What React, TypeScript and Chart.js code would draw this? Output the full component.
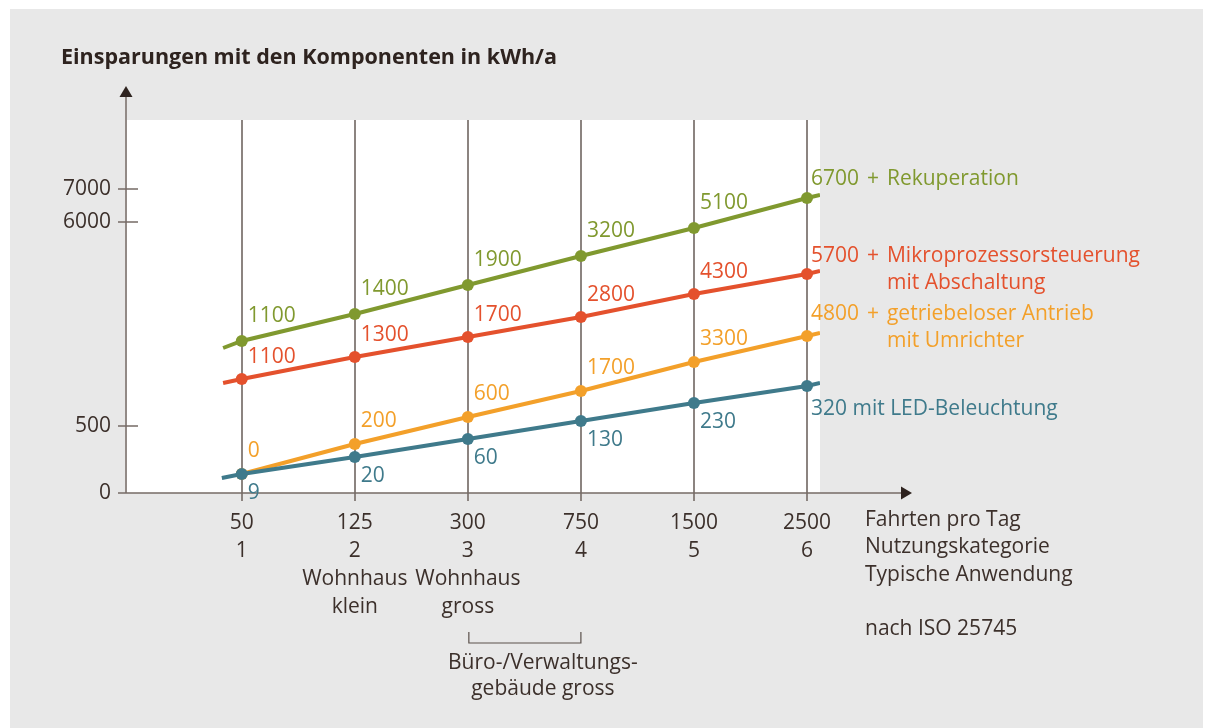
import React, { useEffect, useRef } from "react";
import { Chart, registerables } from "chart.js";

Chart.register(...registerables);

// ---------- data ----------
const categories = [1, 2, 3, 4, 5, 6];
const tripsPerDay = ["50", "125", "300", "750", "1500", "2500"];
const usageCategory = ["1", "2", "3", "4", "5", "6"];
const typicalUse: string[][] = [[], ["Wohnhaus", "klein"], ["Wohnhaus", "gross"], [], [], []];
const axisCaption = ["Fahrten pro Tag", "Nutzungskategorie", "Typische Anwendung", "", "nach ISO 25745"];
const groupRange = [3, 4];
const groupLabel = ["Büro-/Verwaltungs-", "gebäude gross"];
const title = "Einsparungen mit den Komponenten in kWh/a";

// schematic y axis (diagram is not to scale)
const yTickPos = [0, 67, 271, 304];
const yTickLabels = ["0", "500", "6000", "7000"];

// schematic plot heights of each point
const rekuperationPos = [152, 179, 208, 237, 265, 295];
const mikroPos = [114, 136, 156, 176, 199, 219];
const antriebPos = [19, 49, 76, 102, 131, 157];
const ledPos = [19, 36, 54, 72, 90, 107];

// line lead-in / lead-out heights
const leadInX = [0.835, 0.835, null, 0.824];
const leadInY = [145, 110, null, 15];
const leadOutX = 6.115;
const leadOutY = [298, 222, 160, 110];

// savings in kWh/a (labels)
const rekuperationKWh = [1100, 1400, 1900, 3200, 5100, 6700];
const mikroKWh = [1100, 1300, 1700, 2800, 4300, 5700];
const antriebKWh = [0, 200, 600, 1700, 3300, 4800];
const ledKWh = [9, 20, 60, 130, 230, 320];
const seriesPrefix = ["+", "+", "+", ""];
const seriesNames = [
  ["Rekuperation"],
  ["Mikroprozessorsteuerung", "mit Abschaltung"],
  ["getriebeloser Antrieb", "mit Umrichter"],
  ["mit LED-Beleuchtung"],
];

// ---------- styles ----------
const FONT = "'Open Sans', 'Noto Sans', sans-serif";
const TEXT = "#3c302b";
const GRID = "#8c8480";
const AXIS = "#766b66";
const ARROW = "#2e231f";
const seriesStyle = [
  { color: "#80992f", dy: -25, endDy: -19 },
  { color: "#e4512d", dy: -22, endDy: -18 },
  { color: "#f3a02a", dy: -23, endDy: -22 },
  { color: "#3f7a8b", dy: 19, endDy: 23 },
];

const positions = [rekuperationPos, mikroPos, antriebPos, ledPos];
const values = [rekuperationKWh, mikroKWh, antriebKWh, ledKWh];

export default function App() {
  const ref = useRef<HTMLCanvasElement | null>(null);

  useEffect(() => {
    const canvas = ref.current!;
    const datasets = positions.map((pos, s) => {
      const pts: any[] = [];
      if (leadInX[s] !== null) pts.push({ x: leadInX[s], y: leadInY[s], lead: true });
      categories.forEach((c, i) => pts.push({ x: c, y: pos[i], idx: i }));
      pts.push({ x: leadOutX, y: leadOutY[s], lead: true });
      return {
        data: pts,
        borderColor: seriesStyle[s].color,
        backgroundColor: seriesStyle[s].color,
        borderWidth: 4,
        pointRadius: (ctx: any) => (ctx.raw && ctx.raw.lead ? 0 : 6),
        pointBorderWidth: 0,
        pointHoverRadius: 0,
        tension: 0,
        order: 3 - s,
        seriesIndex: s,
      } as any;
    });

    const decor = {
      id: "decor",
      beforeDraw(chart: any) {
        const { ctx, chartArea: a } = chart;
        ctx.save();
        ctx.fillStyle = "#ffffff";
        ctx.fillRect(a.left, a.top, a.right - a.left, a.bottom - a.top);
        ctx.restore();
      },
      beforeDatasetsDraw(chart: any) {
        const { ctx, chartArea: a } = chart;
        const ys = chart.scales.y;
        const ax = a.left - 1;
        ctx.save();
        ctx.strokeStyle = AXIS;
        ctx.lineWidth = 1.5;
        ctx.beginPath();
        ctx.moveTo(ax, a.bottom);
        ctx.lineTo(ax, a.top - 23);
        ctx.moveTo(ax, a.bottom);
        ctx.lineTo(a.right + 81, a.bottom);
        yTickPos.forEach((v) => {
          const py = ys.getPixelForValue(v);
          ctx.moveTo(ax - 8, py);
          ctx.lineTo(ax + 12, py);
        });
        ctx.stroke();
        ctx.fillStyle = ARROW;
        ctx.beginPath();
        ctx.moveTo(ax - 6.5, a.top - 23);
        ctx.lineTo(ax + 6.5, a.top - 23);
        ctx.lineTo(ax, a.top - 34);
        ctx.closePath();
        ctx.fill();
        ctx.beginPath();
        ctx.moveTo(a.right + 81, a.bottom - 6.5);
        ctx.lineTo(a.right + 81, a.bottom + 6.5);
        ctx.lineTo(a.right + 92, a.bottom);
        ctx.closePath();
        ctx.fill();
        ctx.restore();
      },
      afterDatasetsDraw(chart: any) {
        const { ctx, chartArea: a } = chart;
        const xs = chart.scales.x;
        ctx.save();
        ctx.font = `21px ${FONT}`;
        ctx.textBaseline = "middle";
        ctx.textAlign = "left";
        chart.data.datasets.forEach((ds: any, di: number) => {
          const s = ds.seriesIndex;
          const st = seriesStyle[s];
          const meta = chart.getDatasetMeta(di);
          ctx.fillStyle = st.color;
          meta.data.forEach((el: any, k: number) => {
            const raw = ds.data[k];
            if (raw.lead) return;
            const i = raw.idx;
            if (i < categories.length - 1) {
              ctx.fillText(String(values[s][i]), el.x + 6, el.y + st.dy);
            } else {
              const lines = seriesNames[s];
              const x0 = el.x + 4;
              const y0 = el.y + st.endDy;
              const head = `${values[s][i]} `;
              ctx.fillText(head, x0, y0);
              let indent = ctx.measureText(head).width;
              if (seriesPrefix[s]) {
                const gap = 2.5;
                ctx.fillText(seriesPrefix[s], x0 + indent + gap, y0);
                indent += ctx.measureText(`${seriesPrefix[s]} `).width + 2 * gap;
              }
              lines.forEach((t, j) => ctx.fillText(t, x0 + indent, y0 + j * 27));
            }
          });
        });

        // axis caption
        ctx.fillStyle = TEXT;
        axisCaption.forEach((t, j) => {
          ctx.fillText(t, a.right + 45, a.bottom + 27 + j * 27.3);
        });

        // bracket
        const bx1 = xs.getPixelForValue(groupRange[0]) + 1;
        const bx2 = xs.getPixelForValue(groupRange[1]);
        const by = a.bottom + 150;
        ctx.strokeStyle = "#5a504b";
        ctx.lineWidth = 1.2;
        ctx.beginPath();
        ctx.moveTo(bx1, by - 11);
        ctx.lineTo(bx1, by);
        ctx.lineTo(bx2, by);
        ctx.lineTo(bx2, by - 11);
        ctx.stroke();
        ctx.textAlign = "center";
        const cx = (bx1 + bx2) / 2 + 18;
        groupLabel.forEach((t, j) => ctx.fillText(t, cx, by + 20 + j * 26.5));

        // title
        ctx.textAlign = "left";
        ctx.font = `bold 21.5px ${FONT}`;
        ctx.fillStyle = "#2e231f";
        ctx.fillText(title, 61, 58);
        ctx.restore();
      },
    };

    const chart = new Chart(canvas, {
      type: "line",
      data: { datasets },
      options: {
        animation: false,
        responsive: false,
        maintainAspectRatio: false,
        events: [],
        layout: { padding: { top: 120, right: 390, left: 0, bottom: 0 } },
        plugins: { legend: { display: false }, tooltip: { enabled: false }, title: { display: false } },
        scales: {
          x: {
            type: "linear",
            min: -0.015,
            max: 6.115,
            afterBuildTicks: (s: any) => {
              s.ticks = categories.map((v) => ({ value: v }));
            },
            afterFit: (s: any) => {
              s.height = 235;
            },
            grid: { color: GRID, lineWidth: 2, tickLength: 8, drawOnChartArea: true, drawTicks: true },
            border: { display: false },
            ticks: {
              autoSkip: false,
              maxRotation: 0,
              minRotation: 0,
              padding: 8,
              color: TEXT,
              font: { family: FONT, size: 21, lineHeight: 28 / 21 },
              callback: (v: any) => {
                const i = categories.indexOf(Number(v));
                return [tripsPerDay[i], usageCategory[i], ...typicalUse[i]];
              },
            },
          },
          y: {
            type: "linear",
            min: 0,
            max: 373,
            afterBuildTicks: (s: any) => {
              s.ticks = yTickPos.map((v) => ({ value: v }));
            },
            afterFit: (s: any) => {
              s.width = 127;
            },
            grid: { display: false, drawTicks: false },
            border: { display: false },
            ticks: {
              padding: 16,
              color: TEXT,
              font: { family: FONT, size: 21 },
              callback: (v: any) => yTickLabels[yTickPos.indexOf(Number(v))],
            },
          },
        },
      } as any,
      plugins: [decor],
    });
    return () => chart.destroy();
  }, []);

  return (
    <div style={{ position: "absolute", left: 0, top: 0, width: 1210, height: 728, background: "#ffffff" }}>
      <div style={{ position: "absolute", left: 10, top: 9, width: 1193, height: 719, background: "#e8e8e8" }} />
      <canvas ref={ref} width={1210} height={728} style={{ position: "absolute", left: 0, top: 0, width: 1210, height: 728 }} />
    </div>
  );
}
